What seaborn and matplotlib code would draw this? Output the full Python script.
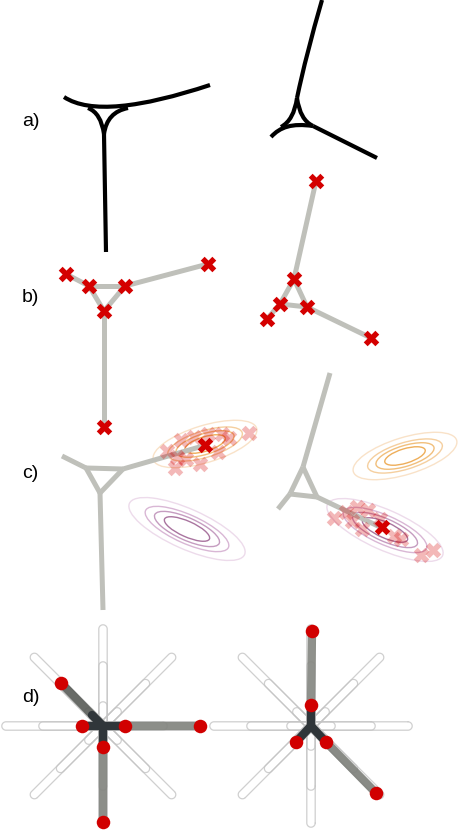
import numpy as np
import pandas as pd
import matplotlib
matplotlib.use("Agg")
import matplotlib.pyplot as plt
from matplotlib.path import Path
from matplotlib.patches import PathPatch, Ellipse
import seaborn as sns

# ---------------- data (pixel-space layout of the illustration) ----------------
panel_labels = ["a)", "b)", "c)", "d)"]
label_y = [121, 297, 473, 698]

# a) smooth skeleton curves: (kind, control points)
a_left_curves = [
    ("cubic", [(64, 97), (90, 114), (140, 108), (210, 85)]),
    ("quad", [(88, 108), (101, 113), (104, 134)]),
    ("quad", [(128, 108), (107, 112), (104, 134)]),
    ("line", [(104, 134), (106, 252)]),
]
a_right_curves = [
    ("quad", [(322, 0), (306, 55), (297, 98)]),
    ("quad", [(297, 98), (294, 120), (281, 127)]),
    ("quad", [(297, 98), (300, 120), (313, 126)]),
    ("cubic", [(271, 137), (280, 127), (292, 123), (313, 126)]),
    ("line", [(313, 126), (377, 158)]),
]

# b) graph nodes / edges
b_left_x = [66, 89, 125, 104, 208, 104]
b_left_y = [274, 286, 286, 311, 264, 427]
b_left_edges = [(0, 1), (1, 2), (1, 3), (2, 3), (2, 4), (3, 5)]
b_right_x = [316, 294, 280, 307, 267, 371]
b_right_y = [181, 279, 304, 307, 319, 338]
b_right_edges = [(0, 1), (1, 2), (1, 3), (2, 3), (2, 4), (3, 5)]

# c) graph nodes / edges
c_left_x = [62, 86, 123, 100, 203, 103]
c_left_y = [456, 468, 469, 493, 446, 610]
c_left_edges = [(0, 1), (1, 2), (1, 3), (2, 3), (2, 4), (3, 5)]
c_right_x = [330, 303, 290, 317, 278, 380]
c_right_y = [373, 467, 494, 497, 509, 527]
c_right_edges = [(0, 1), (1, 2), (1, 3), (2, 3), (2, 4), (3, 5)]

c_left_node = (205, 445)
c_right_node = (382, 527)
c_left_samples_x = [181, 194, 208, 222, 229, 249, 167, 177, 175, 200, 218, 186]
c_left_samples_y = [440, 437, 434, 434, 438, 433, 451, 457, 468, 464, 452, 459]
c_right_samples_x = [334, 346, 357, 368, 352, 362, 380, 394, 401, 421, 433]
c_right_samples_y = [518, 512, 507, 510, 521, 529, 519, 536, 539, 555, 550]

# c) Gaussian contour ellipses: centres, shape, scales
orange_centres = [(205, 444), (405, 456)]
purple_centres = [(187, 529), (385, 530)]
orange_shape = (54, 18.5, -17)   # semi-major, semi-minor, angle
purple_shape = (63, 20, 24)
contour_scales = [1.0, 0.72, 0.56, 0.39]
orange_colors = ["#f9e2c8", "#f5cf9f", "#f1bf7c", "#eeae5a"]
purple_colors = ["#eddbeb", "#d9b7d5", "#c59cc0", "#a9749f"]

# d) rod dictionary and snapped graphs
d_centres = [(103, 726), (311, 726)]
rod_angles = [0, 45, 90, 135]
rod_half_lengths = [97, 60, 20]

d_left_nodes_x = [61, 82, 125, 103, 200, 103]
d_left_nodes_y = [683, 726, 726, 747, 726, 822]
d_left_arms = [((61, 683), (103, 726), "#5b5e5a"),
               ((125, 726), (200, 726), "#82847f"),
               ((103, 747), (103, 822), "#82847f")]
d_left_core = [((82, 726), (125, 726)), ((103, 726), (103, 747)), ((92, 715), (103, 726))]

d_right_nodes_x = [312, 311, 296, 326, 376]
d_right_nodes_y = [631, 705, 742, 742, 793]
d_right_arms = [((312, 631), (311, 705), "#868882"),
                ((326, 742), (376, 793), "#7f817c")]
d_right_core = [((311, 705), (311, 726)), ((311, 726), (296, 742)), ((311, 726), (326, 742))]

RED = "#d40000"
GRAY = "#bfc0ba"
DARK = "#30363a"

# ---------------- drawing ----------------
sns.set_theme(style="white")
plt.rcParams["font.family"] = ["Liberation Sans", "DejaVu Sans"]

fig = plt.figure(figsize=(4.58, 8.34), dpi=100)
ax = fig.add_axes([0, 0, 1, 1])
ax.set_xlim(0, 458)
ax.set_ylim(834, 0)
ax.set_aspect("equal")
ax.axis("off")


def draw_curves(curves, lw=3.0, color="black"):
    for kind, pts in curves:
        if kind == "line":
            codes = [Path.MOVETO, Path.LINETO]
        elif kind == "quad":
            codes = [Path.MOVETO, Path.CURVE3, Path.CURVE3]
        else:
            codes = [Path.MOVETO, Path.CURVE4, Path.CURVE4, Path.CURVE4]
        ax.add_patch(PathPatch(Path(pts, codes), fill=False, lw=lw,
                               edgecolor=color, capstyle="butt", joinstyle="round"))


def draw_graph(xs, ys, edges, color=GRAY, lw=3.6, zorder=2):
    for i, j in edges:
        ax.plot([xs[i], xs[j]], [ys[i], ys[j]], color=color, lw=lw,
                solid_capstyle="butt", zorder=zorder)


def crosses(xs, ys, alpha=1.0, zorder=4):
    sns.scatterplot(x=xs, y=ys, marker="X", s=125, color=RED, alpha=alpha,
                    linewidth=0, ax=ax, legend=False, zorder=zorder)


def capsule(cx, cy, ang, half, r=4.2, n=20):
    t = np.deg2rad(ang)
    ux, uy = np.cos(t), np.sin(t)
    px, py = -uy, ux
    pts = []
    for a in np.linspace(-np.pi / 2, np.pi / 2, n):
        pts.append((cx + ux * half + r * (np.cos(a) * ux + np.sin(a) * px),
                    cy + uy * half + r * (np.cos(a) * uy + np.sin(a) * py)))
    for a in np.linspace(np.pi / 2, 3 * np.pi / 2, n):
        pts.append((cx - ux * half + r * (np.cos(a) * ux + np.sin(a) * px),
                    cy - uy * half + r * (np.cos(a) * uy + np.sin(a) * py)))
    pts.append(pts[0])
    pts = np.array(pts)
    return pts[:, 0], pts[:, 1]


# labels
for lab, y in zip(panel_labels, label_y):
    ax.text(22, y, lab, fontsize=14, va="center", ha="left", color="black")

# a)
draw_curves(a_left_curves)
draw_curves(a_right_curves)

# b)
draw_graph(b_left_x, b_left_y, b_left_edges)
draw_graph(b_right_x, b_right_y, b_right_edges)
crosses(b_left_x, b_left_y)
crosses(b_right_x, b_right_y)

# c) contours
for centres, shape, cols in [(orange_centres, orange_shape, orange_colors),
                             (purple_centres, purple_shape, purple_colors)]:
    a_, b_, ang = shape
    for (cx, cy) in centres:
        for sc, col in zip(contour_scales, cols):
            ax.add_patch(Ellipse((cx, cy), 2 * a_ * sc, 2 * b_ * sc, angle=ang,
                                 fill=False, edgecolor=col, lw=1.0, zorder=1))

draw_graph(c_left_x, c_left_y, c_left_edges)
draw_graph(c_right_x, c_right_y, c_right_edges)
crosses(c_left_samples_x, c_left_samples_y, alpha=0.28, zorder=3)
crosses(c_right_samples_x, c_right_samples_y, alpha=0.28, zorder=3)
crosses([c_left_node[0]], [c_left_node[1]])
crosses([c_right_node[0]], [c_right_node[1]])

# d) rods
for (cx, cy) in d_centres:
    for ang in rod_angles:
        for h in rod_half_lengths:
            xs, ys = capsule(cx, cy, ang, h)
            ax.plot(xs, ys, color="#c4c4c4", lw=0.9, alpha=0.8, zorder=1)

for arms, core in [(d_left_arms, d_left_core), (d_right_arms, d_right_core)]:
    for p0, p1, col in arms:
        ax.plot([p0[0], p1[0]], [p0[1], p1[1]], color=col, lw=6.0, alpha=0.92,
                solid_capstyle="round", zorder=2)
    for p0, p1 in core:
        ax.plot([p0[0], p1[0]], [p0[1], p1[1]], color=DARK, lw=6.0,
                solid_capstyle="round", zorder=2.5)

sns.scatterplot(x=d_left_nodes_x + d_right_nodes_x,
                y=d_left_nodes_y + d_right_nodes_y,
                marker="o", s=95, color="#d10000", linewidth=0, ax=ax,
                legend=False, zorder=5)

ax.set_xlim(0, 458)
ax.set_ylim(834, 0)
fig.savefig("out.png", dpi=100, facecolor="white")
